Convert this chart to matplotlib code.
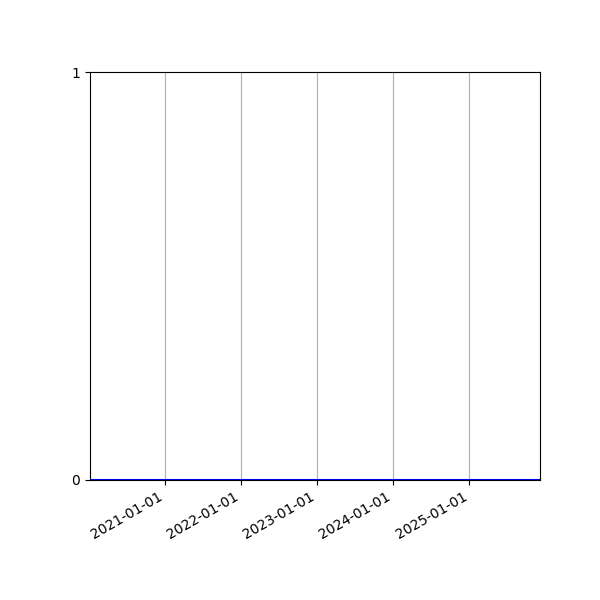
import matplotlib
matplotlib.use("Agg")
import matplotlib.pyplot as plt
import matplotlib.dates as mdates
import pandas as pd

# dados: série com todos os valores zerados
datas = ["2020-01-07", "2021-01-01", "2022-01-01", "2023-01-01",
         "2024-01-01", "2025-01-01", "2025-12-06"]
valores = [0, 0, 0, 0, 0, 0, 0]

datas = pd.to_datetime(datas)

fig, ax = plt.subplots(figsize=(6, 6), dpi=100)
ax.plot(datas, valores, color="blue", linewidth=1.5)

ax.set_xlim(datas[0], datas[-1])
ax.set_ylim(0, 1)
ax.set_yticks([0, 1])
ax.xaxis.set_major_locator(mdates.YearLocator())
ax.xaxis.set_major_formatter(mdates.DateFormatter("%Y-%m-%d"))
ax.grid(True, axis="x")

fig.autofmt_xdate()
fig.subplots_adjust(left=0.15, right=0.9, top=0.88, bottom=0.2)

plt.savefig("out.png", dpi=100)
